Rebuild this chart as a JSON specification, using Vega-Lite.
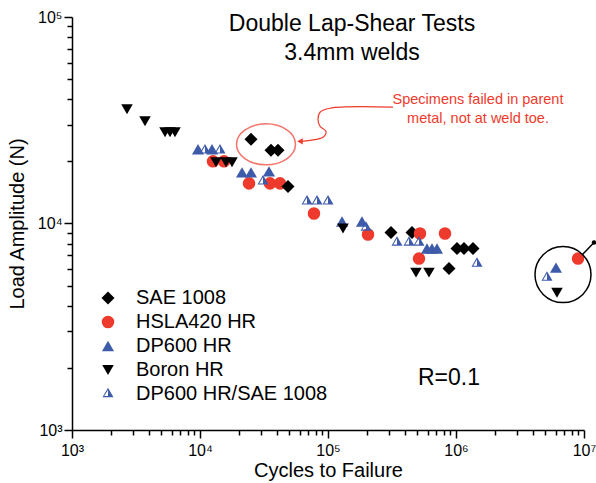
{
  "$schema": "https://vega.github.io/schema/vega-lite/v6.json",
  "width": 512,
  "height": 413,
  "autosize": {"type": "none"},
  "padding": {"left": 72, "top": 17, "right": 12, "bottom": 53},
  "background": "white",
  "config": {
    "font": "Liberation Sans",
    "view": {"stroke": null},
    "legend": {"labelFontSize": 20, "labelColor": "black", "symbolStrokeWidth": 0, "rowPadding": 4, "labelOffset": 18, "padding": 0, "symbolOffset": 0, "labelFont": "Liberation Sans", "labelLimit": 0}
  },
  "datasets": {
    "pts": [
      {"x": 25020, "y": 25570, "s": "SAE 1008"},
      {"x": 35870, "y": 22610, "s": "SAE 1008"},
      {"x": 40680, "y": 22610, "s": "SAE 1008"},
      {"x": 310600, "y": 9044, "s": "SAE 1008"},
      {"x": 453300, "y": 9044, "s": "SAE 1008"},
      {"x": 1018000, "y": 7560, "s": "SAE 1008"},
      {"x": 1155000, "y": 7560, "s": "SAE 1008"},
      {"x": 1358000, "y": 7560, "s": "SAE 1008"},
      {"x": 881600, "y": 6047, "s": "SAE 1008"},
      {"x": 12634, "y": 20000, "s": "HSLA420 HR"},
      {"x": 15400, "y": 20000, "s": "HSLA420 HR"},
      {"x": 24150, "y": 15640, "s": "HSLA420 HR"},
      {"x": 35230, "y": 15640, "s": "HSLA420 HR"},
      {"x": 42170, "y": 15640, "s": "HSLA420 HR"},
      {"x": 77710, "y": 11180, "s": "HSLA420 HR"},
      {"x": 205400, "y": 8843, "s": "HSLA420 HR"},
      {"x": 523300, "y": 8943, "s": "HSLA420 HR"},
      {"x": 820500, "y": 8943, "s": "HSLA420 HR"},
      {"x": 513800, "y": 6763, "s": "HSLA420 HR"},
      {"x": 8980000, "y": 6763, "s": "HSLA420 HR"},
      {"x": 48700, "y": 15120, "s": "SAE 1008"},
      {"x": 9647, "y": 22870, "s": "DP600 HR"},
      {"x": 12410, "y": 22870, "s": "DP600 HR"},
      {"x": 21290, "y": 17690, "s": "DP600 HR"},
      {"x": 25020, "y": 17690, "s": "DP600 HR"},
      {"x": 34600, "y": 17880, "s": "DP600 HR"},
      {"x": 128700, "y": 10220, "s": "DP600 HR"},
      {"x": 184300, "y": 10220, "s": "DP600 HR"},
      {"x": 593500, "y": 7560, "s": "DP600 HR"},
      {"x": 649400, "y": 7560, "s": "DP600 HR"},
      {"x": 710600, "y": 7560, "s": "DP600 HR"},
      {"x": 6043000, "y": 6114, "s": "DP600 HR"},
      {"x": 2690, "y": 35760, "s": "Boron HR"},
      {"x": 3718, "y": 31270, "s": "Boron HR"},
      {"x": 5330, "y": 27660, "s": "Boron HR"},
      {"x": 5830, "y": 27660, "s": "Boron HR"},
      {"x": 6378, "y": 27660, "s": "Boron HR"},
      {"x": 13335, "y": 19780, "s": "Boron HR"},
      {"x": 15966, "y": 19780, "s": "Boron HR"},
      {"x": 17783, "y": 19780, "s": "Boron HR"},
      {"x": 131000, "y": 9457, "s": "Boron HR"},
      {"x": 486900, "y": 5782, "s": "Boron HR"},
      {"x": 615000, "y": 5782, "s": "Boron HR"},
      {"x": 6150000, "y": 4624, "s": "Boron HR"},
      {"x": 10940, "y": 22610, "s": "DP600 HR/SAE 1008"},
      {"x": 14330, "y": 22610, "s": "DP600 HR/SAE 1008"},
      {"x": 31060, "y": 15990, "s": "DP600 HR/SAE 1008"},
      {"x": 68540, "y": 12790, "s": "DP600 HR/SAE 1008"},
      {"x": 82060, "y": 12790, "s": "DP600 HR/SAE 1008"},
      {"x": 100000, "y": 12790, "s": "DP600 HR/SAE 1008"},
      {"x": 198200, "y": 9563, "s": "DP600 HR/SAE 1008"},
      {"x": 345900, "y": 8088, "s": "DP600 HR/SAE 1008"},
      {"x": 429300, "y": 8088, "s": "DP600 HR/SAE 1008"},
      {"x": 513800, "y": 8088, "s": "DP600 HR/SAE 1008"},
      {"x": 1459000, "y": 6395, "s": "DP600 HR/SAE 1008"},
      {"x": 5140000, "y": 5469, "s": "DP600 HR/SAE 1008"}
    ],
    "ellipse": [{"x": 32780, "y": 24180}],
    "curve": [
      {"i": 1, "x": 321900, "y": 36570},
      {"i": 2, "x": 103700, "y": 36160},
      {"i": 3, "x": 86600, "y": 34570},
      {"i": 4, "x": 83550, "y": 31980},
      {"i": 5, "x": 86600, "y": 29580},
      {"i": 6, "x": 96470, "y": 27960},
      {"i": 7, "x": 91400, "y": 26160},
      {"i": 8, "x": 72330, "y": 25290},
      {"i": 9, "x": 62000, "y": 25010}
    ],
    "arrow": [{"x": 60430, "y": 25010}],
    "circ": [{"x": 6853000, "y": 5655}],
    "bline": [
      {"i": 1, "x": 9734000, "y": 7070},
      {"i": 2, "x": 11970000, "y": 8087}
    ],
    "bdot": [{"x": 11970000, "y": 8087}],
    "ann": [
      {"x": 1485000, "y": 37820, "t": "Specimens failed in parent"},
      {"x": 1485000, "y": 30580, "t": "metal, not at weld toe."}
    ],
    "ttl": [
      {"x": 153990, "y": 85510, "t": "Double Lap-Shear Tests"},
      {"x": 153990, "y": 61840, "t": "3.4mm welds"}
    ],
    "rtxt": [{"x": 504900, "y": 1652, "t": "R=0.1"}]
  },
  "encoding": {
    "x": {
      "field": "x", "type": "quantitative",
      "scale": {"type": "log", "domain": [1000, 10000000]},
      "axis": {
        "title": "Cycles to Failure",
        "values": [1000,2000,3000,4000,5000,6000,7000,8000,9000,10000,20000,30000,40000,50000,60000,70000,80000,90000,100000,200000,300000,400000,500000,600000,700000,800000,900000,1000000,2000000,3000000,4000000,5000000,6000000,7000000,8000000,9000000,10000000],
        "labelExpr": "datum.value==1000?'10³':datum.value==10000?'10⁴':datum.value==100000?'10⁵':datum.value==1000000?'10⁶':datum.value==10000000?'10⁷':''",
        "tickSize": {"condition": {"test": "datum.value==1000||datum.value==10000||datum.value==100000||datum.value==1000000||datum.value==10000000", "value": 8}, "value": 5},
        "grid": false,
        "domainColor": "black", "domainWidth": 1.5,
        "tickColor": "black", "tickWidth": 1.5,
        "labelFontSize": 16, "labelColor": "black", "labelPadding": 4,
        "labelFlush": false, "labelOverlap": false, "labelBound": false,
        "titleFontSize": 20, "titleFontWeight": "normal", "titleColor": "black",
        "titleY": 46, "titleBaseline": "alphabetic"
      }
    },
    "y": {
      "field": "y", "type": "quantitative",
      "scale": {"type": "log", "domain": [1000, 100000]},
      "axis": {
        "title": "Load Amplitude (N)",
        "values": [1000,2000,3000,4000,5000,6000,7000,8000,9000,10000,20000,30000,40000,50000,60000,70000,80000,90000,100000],
        "labelExpr": "datum.value==1000?'10³':datum.value==10000?'10⁴':datum.value==100000?'10⁵':''",
        "tickSize": {"condition": {"test": "datum.value==1000||datum.value==10000||datum.value==100000", "value": 8}, "value": 5},
        "grid": false,
        "domainColor": "black", "domainWidth": 1.5,
        "tickColor": "black", "tickWidth": 1.5,
        "labelFontSize": 16, "labelColor": "black", "labelPadding": 2,
        "labelFlush": false, "labelOverlap": false, "labelBound": false,
        "titleFontSize": 20, "titleFontWeight": "normal", "titleColor": "black", "titlePadding": 10
      }
    }
  },
  "layer": [
    {
      "data": {"name": "pts"},
      "mark": {"type": "point", "filled": true, "opacity": 1, "strokeWidth": 0},
      "encoding": {
        "shape": {
          "field": "s", "type": "nominal",
          "scale": {"domain": ["SAE 1008", "HSLA420 HR", "DP600 HR", "Boron HR", "DP600 HR/SAE 1008"],
                    "range": ["diamond", "circle", "triangle-up", "triangle-down", "M0,-1.1547L1,0.5774L-1,0.5774ZM0,-0.7347L-0.6883,0.3774L0,0.3774Z"]},
          "legend": {"title": null, "orient": "none", "legendX": 26, "legendY": 271}
        },
        "color": {
          "field": "s", "type": "nominal",
          "scale": {"domain": ["SAE 1008", "HSLA420 HR", "DP600 HR", "Boron HR", "DP600 HR/SAE 1008"],
                    "range": ["#000000", "#EE3A2C", "#3E5BA9", "#000000", "#3E5BA9"]},
          "legend": {"title": null, "orient": "none", "legendX": 26, "legendY": 271}
        },
        "size": {
          "field": "s", "type": "nominal",
          "scale": {"domain": ["SAE 1008", "HSLA420 HR", "DP600 HR", "Boron HR", "DP600 HR/SAE 1008"],
                    "range": [169, 121, 144, 144, 144]},
          "legend": {"title": null, "orient": "none", "legendX": 26, "legendY": 271}
        }
      }
    },
    {
      "data": {"name": "ellipse"},
      "mark": {"type": "point", "filled": false, "color": "#EE3A2C", "strokeWidth": 1.5, "size": 3481,
               "shape": "M-1,0C-1,-0.384,-0.552,-0.695,0,-0.695C0.552,-0.695,1,-0.384,1,0C1,0.384,0.552,0.695,0,0.695C-0.552,0.695,-1,0.384,-1,0Z"},
      "encoding": {}
    },
    {
      "data": {"name": "curve"},
      "mark": {"type": "line", "interpolate": "catmull-rom", "color": "#EE3A2C", "strokeWidth": 1.2},
      "encoding": {"order": {"field": "i", "type": "quantitative"}}
    },
    {
      "data": {"name": "arrow"},
      "mark": {"type": "point", "filled": true, "shape": "triangle-left", "color": "#EE3A2C", "size": 40, "opacity": 1},
      "encoding": {}
    },
    {
      "data": {"name": "circ"},
      "mark": {"type": "point", "filled": false, "shape": "circle", "color": "black", "strokeWidth": 1.5, "size": 3136, "opacity": 1},
      "encoding": {}
    },
    {
      "data": {"name": "bline"},
      "mark": {"type": "line", "color": "black", "strokeWidth": 1.5},
      "encoding": {"order": {"field": "i", "type": "quantitative"}}
    },
    {
      "data": {"name": "bdot"},
      "mark": {"type": "point", "filled": true, "shape": "circle", "color": "black", "size": 20, "opacity": 1},
      "encoding": {}
    },
    {
      "data": {"name": "ann"},
      "mark": {"type": "text", "color": "#EE3A2C", "fontSize": 14.5, "align": "center", "baseline": "alphabetic"},
      "encoding": {"text": {"field": "t"}}
    },
    {
      "data": {"name": "ttl"},
      "mark": {"type": "text", "color": "black", "fontSize": 23, "align": "center", "baseline": "alphabetic"},
      "encoding": {"text": {"field": "t"}}
    },
    {
      "data": {"name": "rtxt"},
      "mark": {"type": "text", "color": "black", "fontSize": 23, "align": "left", "baseline": "alphabetic"},
      "encoding": {"text": {"field": "t"}}
    }
  ]
}
